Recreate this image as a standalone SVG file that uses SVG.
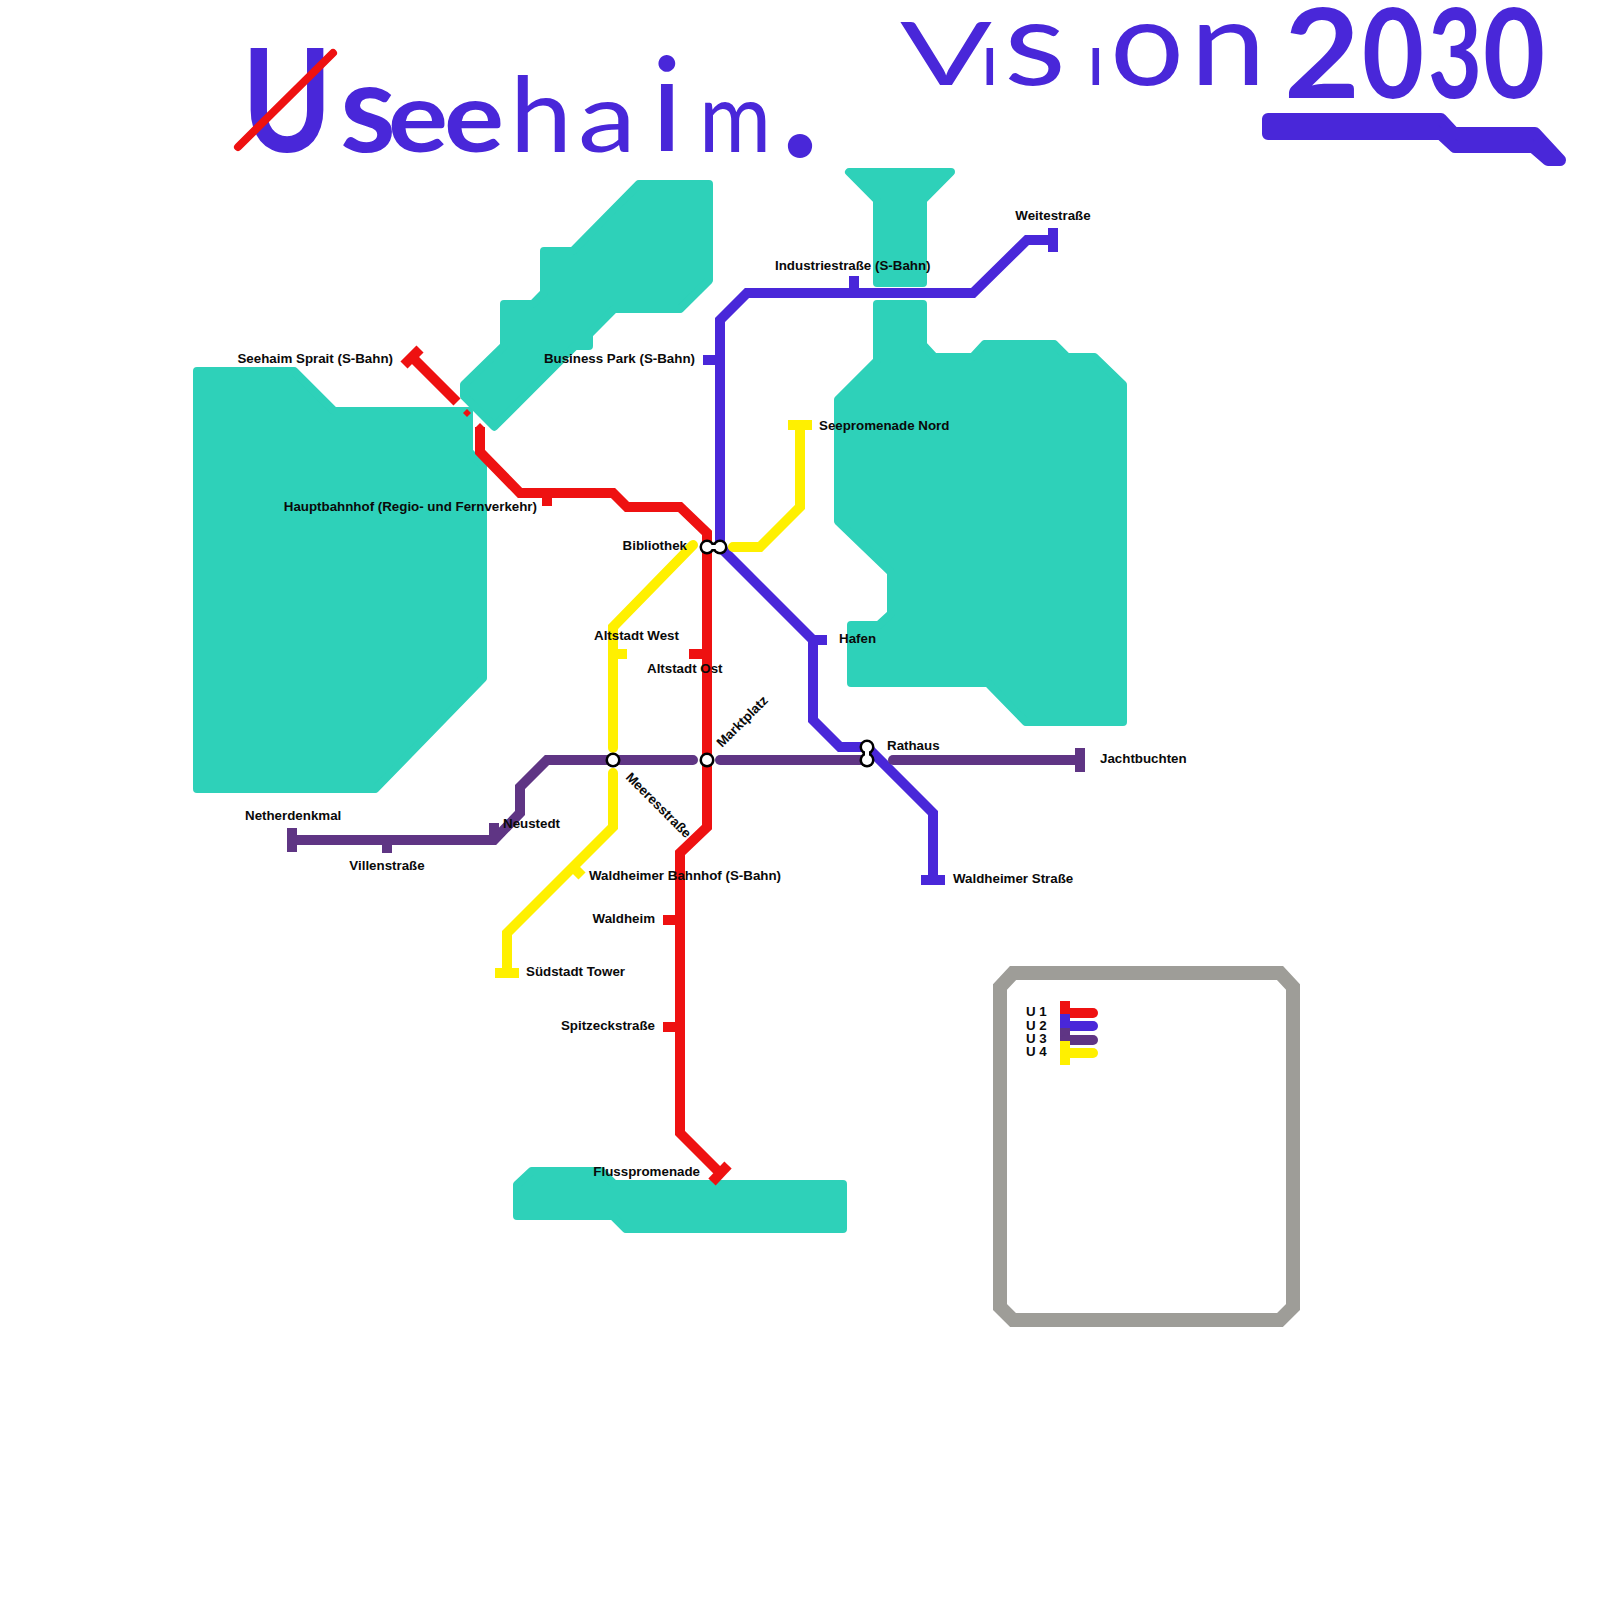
<svg xmlns="http://www.w3.org/2000/svg" width="1600" height="1600" viewBox="0 0 1600 1600">
<style>
.lake{fill:#2ED1B9;stroke:#2ED1B9;stroke-width:8;stroke-linejoin:round}
.ln{fill:none;stroke-width:10;stroke-linecap:round;stroke-linejoin:miter}
.tk{fill:none;stroke-width:10;stroke-linecap:butt}
.r{stroke:#EE1111}.b{stroke:#4927D9}.p{stroke:#5F3584}.y{stroke:#FFF000}
.lb{font-family:"Liberation Sans",Arial,sans-serif;font-weight:bold;font-size:13.33px;fill:#0a0a0a}
.e{text-anchor:end}.m{text-anchor:middle}
.t{font-family:Lato,"Liberation Sans",sans-serif;fill:#4927D9}
.bd{font-weight:bold}
.o{fill:#000}.w{fill:#fff}
</style>
<rect width="1600" height="1600" fill="#fff"/>
<g id="water">
<path class="lake" d="M197,371H294.3L334.3,411H469V451.7L483,465.7V678.3L375.3,789H197Z"/>
<path class="lake" d="M638.7,184H709V280.3L680.3,309H614.3L589,334.3V346H575L494.3,426.7L464,396.3V384.7L504,345.7V304H532.7L544,292.7V251H572.7Z"/>
<path class="lake" d="M849,172H951L923,200.3V283H877V200.3Z"/>
<path class="lake" d="M877,304H923V344.7L934.3,357H972.7L984.7,344H1054.3L1067.3,357H1094.3L1123,384.7V722H1025.7L987.7,683H851V625H878.7L891,613.7V572.3L838,521.3V399.7L877,360.7Z"/>
<path class="lake" d="M531.7,1171H601.3L608.3,1178L614.3,1184H843V1229H625.7L612.7,1216H517V1184.7Z"/>
</g>
<g id="frame"><path d="M1013,973H1280L1293,987V1307L1280,1320H1013L1000,1307V987Z" fill="none" stroke="#9E9D98" stroke-width="14"/></g>
<g id="connectors">
<path class="ln r" style="stroke-linecap:butt" d="M412,357L457,402"/>
<path d="M467,409L471,413L467,417L463,413Z" fill="#EE1111"/>
<path d="M475,428L480,423L485,428Z" fill="#EE1111"/>
<path class="ln r" style="stroke-linecap:butt" d="M480,427V452L520,493H613L627,507H680L707,533V827L680,853V1133L720,1173"/>
<path class="ln b" d="M1053,240H1027L973,293H747L720,320V547L813,640V720L840,747H867L933,813V880"/>
<path class="ln p" d="M293,840H494L520,813V787L547,760H693"/>
<path class="ln p" d="M720,760H867"/>
<path class="ln p" d="M893,760H1080"/>
<path class="ln y" d="M800,425V507L760,547H733"/>
<path class="ln y" d="M693,545L613,627V748"/>
<path class="ln y" d="M613,773V827L507,933V973"/>
</g>
<g id="title">
<text class="t" y="152"><tspan class="bd" x="242" font-size="144" textLength="90" lengthAdjust="spacingAndGlyphs">U</tspan><tspan class="bd" x="340" font-size="125" textLength="56" lengthAdjust="spacingAndGlyphs">s</tspan><tspan class="bd" x="388" font-size="97" textLength="60" lengthAdjust="spacingAndGlyphs">e</tspan><tspan class="bd" x="444" font-size="97" textLength="60" lengthAdjust="spacingAndGlyphs">e</tspan><tspan x="510" font-size="104" textLength="62" lengthAdjust="spacingAndGlyphs">h</tspan><tspan x="578" font-size="97" textLength="58" lengthAdjust="spacingAndGlyphs">a</tspan><tspan x="651" font-size="132">i</tspan><tspan x="699" font-size="97" textLength="72" lengthAdjust="spacingAndGlyphs">m</tspan><tspan class="bd" x="781" y="157" font-size="160">.</tspan></text>
<path d="M238,147L333,53" stroke="#EE1111" stroke-width="8" stroke-linecap="round"/>
<text class="t" y="85"><tspan x="900" font-size="88" textLength="92" lengthAdjust="spacingAndGlyphs">V</tspan><tspan x="981" font-size="73">ı</tspan><tspan x="1004" font-size="118" textLength="62" lengthAdjust="spacingAndGlyphs">s</tspan><tspan x="1087" font-size="73">ı</tspan><tspan x="1110" font-size="118" textLength="74" lengthAdjust="spacingAndGlyphs">o</tspan><tspan x="1190" font-size="118" textLength="76" lengthAdjust="spacingAndGlyphs">n</tspan></text>
<text class="t bd" y="98"><tspan x="1284" font-size="125" textLength="76" lengthAdjust="spacingAndGlyphs">2</tspan><tspan x="1362" font-size="125" textLength="62" lengthAdjust="spacingAndGlyphs">0</tspan><tspan x="1428" font-size="125" textLength="54" lengthAdjust="spacingAndGlyphs">3</tspan><tspan x="1483" font-size="125" textLength="62" lengthAdjust="spacingAndGlyphs">0</tspan></text>
<path d="M1268,119H1441L1454,133H1535L1560,160H1548L1533,147H1455L1441,134H1268Z" fill="#4927D9" stroke="#4927D9" stroke-width="12" stroke-linejoin="round"/>
</g>
<g id="st-seehaim-sprait"><path class="tk r" d="M404,365L420,349"/><text class="lb e" x="393" y="363">Seehaim Sprait (S-Bahn)</text></g>
<g id="st-hauptbahnhof"><path class="tk r" d="M547,493V506"/><text class="lb e" x="537" y="511">Hauptbahnhof (Regio- und Fernverkehr)</text></g>
<g id="st-altstadt-ost"><path class="tk r" d="M689,654H707"/><text class="lb" x="647" y="673">Altstadt Ost</text></g>
<g id="st-waldheim"><path class="tk r" d="M663,920H680"/><text class="lb e" x="655" y="923">Waldheim</text></g>
<g id="st-spitzeck"><path class="tk r" d="M663,1027H680"/><text class="lb e" x="655" y="1030">Spitzeckstraße</text></g>
<g id="st-fluss"><path class="tk r" d="M712,1182L728,1165"/><text class="lb e" x="700" y="1176">Flusspromenade</text></g>
<g id="st-weite"><path class="tk b" d="M1053,228V252"/><text class="lb m" x="1053" y="220">Weitestraße</text></g>
<g id="st-industrie"><path class="tk b" d="M854,276V293"/><text class="lb" x="775" y="270">Industriestraße (S-Bahn)</text></g>
<g id="st-business"><path class="tk b" d="M703,360H720"/><text class="lb e" x="695" y="363">Business Park (S-Bahn)</text></g>
<g id="st-hafen"><path class="tk b" d="M813,640H827"/><text class="lb" x="839" y="643">Hafen</text></g>
<g id="st-waldheimer-str"><path class="tk b" d="M921,880H945"/><text class="lb" x="953" y="883">Waldheimer Straße</text></g>
<g id="st-netherdenkmal"><path class="tk p" d="M292,828V852"/><text class="lb" x="245" y="820">Netherdenkmal</text></g>
<g id="st-villen"><path class="tk p" d="M387,840V853"/><text class="lb m" x="387" y="870">Villenstraße</text></g>
<g id="st-neustedt"><path class="tk p" d="M494,823V840"/><text class="lb" x="503" y="828">Neustedt</text></g>
<g id="st-jacht"><path class="tk p" d="M1080,748V772"/><text class="lb" x="1100" y="763">Jachtbuchten</text></g>
<g id="st-seepromenade"><path class="tk y" d="M788,425H812"/><text class="lb" x="819" y="430">Seepromenade Nord</text></g>
<g id="st-altstadt-west"><path class="tk y" d="M613,654H627"/><text class="lb" x="594" y="640">Altstadt West</text></g>
<g id="st-waldheimer-bf"><path class="tk y" d="M573,867L582,876"/><text class="lb" x="589" y="880">Waldheimer Bahnhof (S-Bahn)</text></g>
<g id="st-suedstadt"><path class="tk y" d="M495,973H519"/><text class="lb" x="526" y="976">Südstadt Tower</text></g>
<g id="st-bibliothek">
<path d="M707,547H720" stroke="#000" stroke-width="9"/><circle class="o" cx="707" cy="547" r="7.5"/><circle class="o" cx="720" cy="547" r="7.5"/>
<circle class="w" cx="707" cy="547" r="5"/><circle class="w" cx="720" cy="547" r="5"/><path d="M707,547H720" stroke="#fff" stroke-width="4"/>
<text class="lb e" x="687" y="550">Bibliothek</text></g>
<g id="st-rathaus">
<path d="M867,747V760" stroke="#000" stroke-width="9"/><circle class="o" cx="867" cy="747" r="7.5"/><circle class="o" cx="867" cy="760" r="7.5"/>
<circle class="w" cx="867" cy="747" r="5"/><circle class="w" cx="867" cy="760" r="5"/><path d="M867,747V760" stroke="#fff" stroke-width="4"/>
<text class="lb" x="887" y="750">Rathaus</text></g>
<g id="st-meeresstrasse"><circle class="o" cx="613" cy="760" r="7.5"/><circle class="w" cx="613" cy="760" r="5"/>
<text class="lb" transform="translate(625,778) rotate(45)">Meeresstraße</text></g>
<g id="st-marktplatz"><circle class="o" cx="707" cy="760" r="7.5"/><circle class="w" cx="707" cy="760" r="5"/>
<text class="lb" transform="translate(722,748) rotate(-45)">Marktplatz</text></g>
<g id="legend">
<path class="tk r" d="M1065,1001V1014"/><path class="ln r" d="M1065,1013H1093"/>
<path class="tk b" d="M1065,1014V1028"/><path class="ln b" d="M1065,1026H1093"/>
<path class="tk p" d="M1065,1028V1041"/><path class="ln p" d="M1065,1040H1093"/>
<path class="tk y" d="M1065,1041V1065"/><path class="ln y" d="M1065,1053H1093"/>
<text class="lb" x="1026" y="1016">U 1</text>
<text class="lb" x="1026" y="1030">U 2</text>
<text class="lb" x="1026" y="1043">U 3</text>
<text class="lb" x="1026" y="1056">U 4</text>
</g>
</svg>
